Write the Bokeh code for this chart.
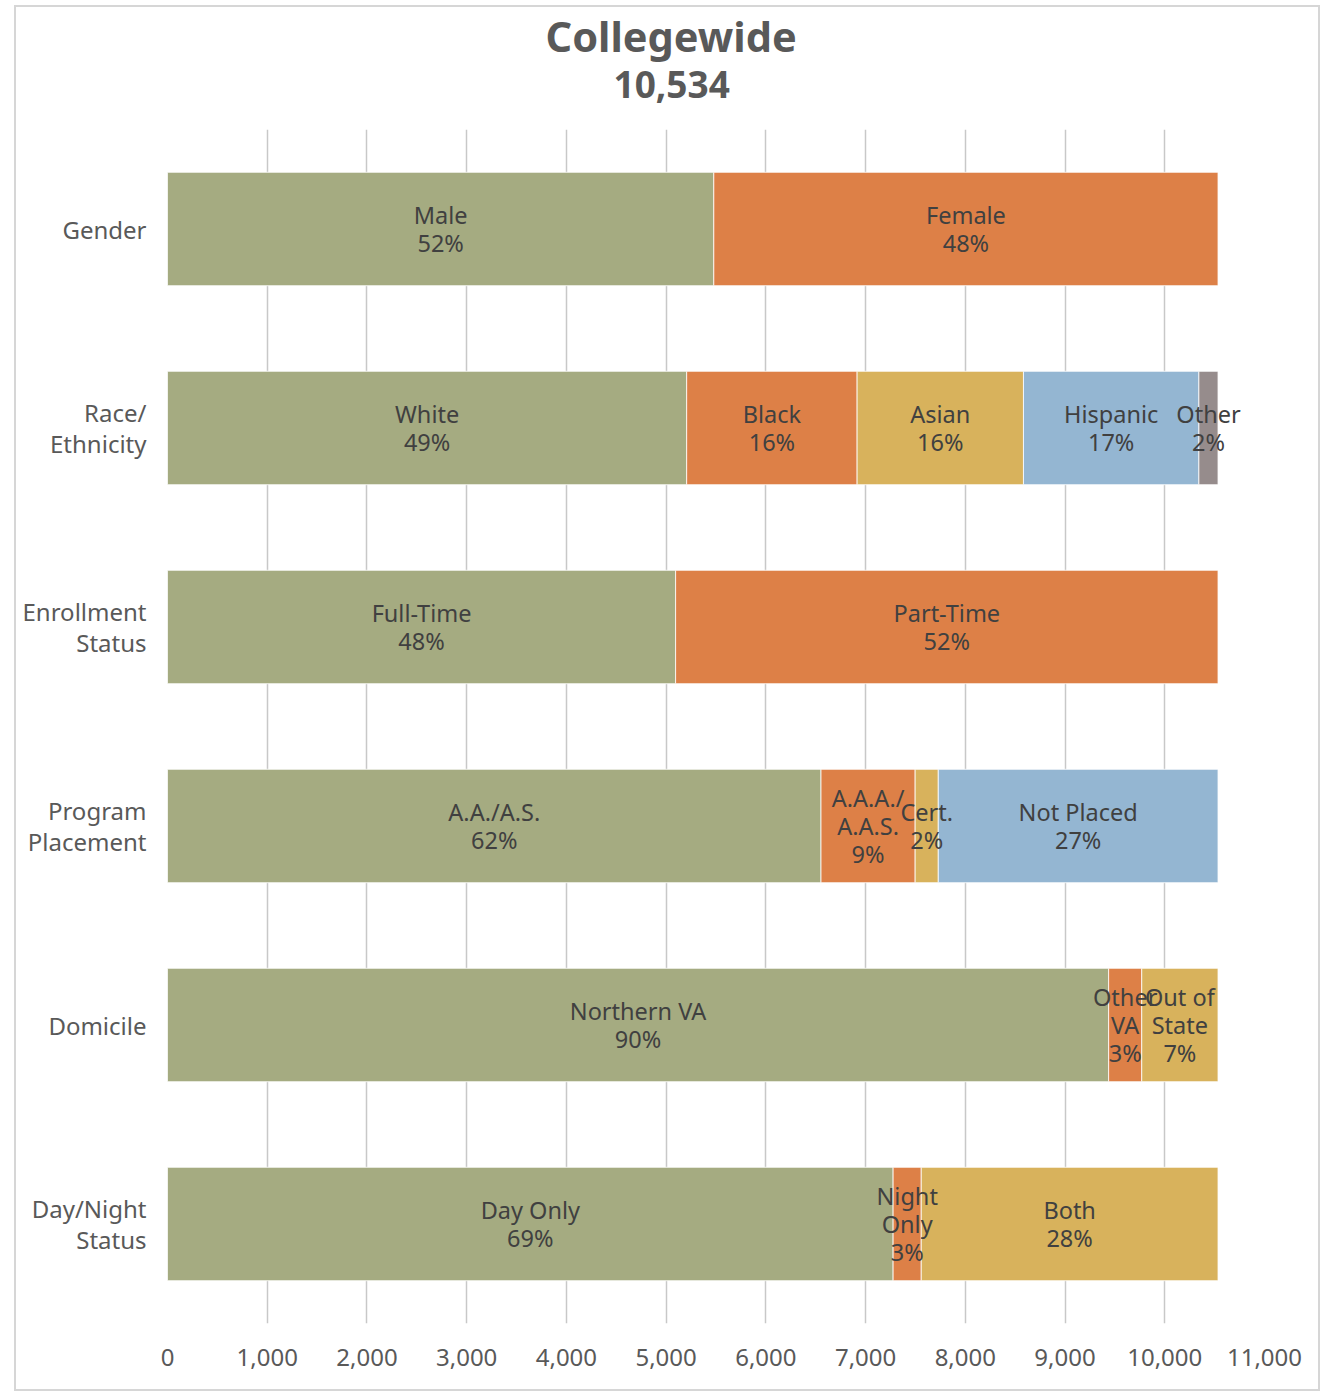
from bokeh.plotting import figure
from bokeh.models import FactorRange, Range1d, ColumnDataSource, FixedTicker, NumeralTickFormatter, Title
from bokeh.core.properties import value
from bokeh.embed import file_html
from bokeh.resources import INLINE
import numpy as np

title_text = "Collegewide"
total_text = "10,534"

rows = ["Gender", "Race/\nEthnicity", "Enrollment\nStatus", "Program\nPlacement", "Domicile", "Day/Night\nStatus"]

gender_names = ["Male", "Female"]
gender_values = [5478, 5056]
gender_pcts = [52, 48]

race_names = ["White", "Black", "Asian", "Hispanic", "Other"]
race_values = [5206, 1709, 1668, 1759, 192]
race_pcts = [49, 16, 16, 17, 2]

enroll_names = ["Full-Time", "Part-Time"]
enroll_values = [5095, 5439]
enroll_pcts = [48, 52]

program_names = ["A.A./A.S.", "A.A.A./\nA.A.S.", "Cert.", "Not Placed"]
program_values = [6553, 944, 232, 2805]
program_pcts = [62, 9, 2, 27]

domicile_names = ["Northern VA", "Other\nVA", "Out of\nState"]
domicile_values = [9437, 332, 765]
domicile_pcts = [90, 3, 7]

daynight_names = ["Day Only", "Night\nOnly", "Both"]
daynight_values = [7276, 282, 2976]
daynight_pcts = [69, 3, 28]

x_ticks = list(range(0, 11001, 1000))

palette = ["#A5AB81", "#DD8047", "#D8B25C", "#94B6D2", "#968C8C"]

groups = [
    (rows[0], gender_names, gender_values, gender_pcts),
    (rows[1], race_names, race_values, race_pcts),
    (rows[2], enroll_names, enroll_values, enroll_pcts),
    (rows[3], program_names, program_values, program_pcts),
    (rows[4], domicile_names, domicile_values, domicile_pcts),
    (rows[5], daynight_names, daynight_values, daynight_pcts),
]

data = dict(row=[], left=[], right=[], mid=[], label=[], color=[])
for row, names, vals, pcts in groups:
    v = np.array(vals, dtype=float)
    right = np.cumsum(v)
    left = right - v
    for i in range(len(vals)):
        data["row"].append(row)
        data["left"].append(left[i])
        data["right"].append(right[i])
        data["mid"].append((left[i] + right[i]) / 2)
        data["label"].append(f"{names[i]}\n{pcts[i]}%")
        data["color"].append(palette[i])
src = ColumnDataSource(data)

p = figure(
    width=1306, height=1386,
    y_range=FactorRange(*list(reversed(rows))),
    x_range=Range1d(0, 11000),
    output_backend="svg", toolbar_location=None,
    min_border_left=151, min_border_right=58, min_border_top=122, min_border_bottom=70,
)
p.margin = (5, 0, 0, 14)
p.styles = {"border": "2px solid #D6D6D6"}
p.outline_line_color = None
p.background_fill_color = "white"
p.border_fill_color = "white"

p.hbar(y="row", left="left", right="right", height=0.57, fill_color="color",
       line_color="white", line_width=0.8, source=src)
p.text(x="mid", y="row", text="label", text_align="center", text_baseline="middle",
       text_font=value("Noto Sans"), text_font_size="23.5px", text_color="#404040",
       text_line_height=0.88, source=src)

p.xgrid.ticker = FixedTicker(ticks=x_ticks)
p.xgrid.grid_line_color = "#C8C8C8"
p.xgrid.grid_line_width = 1.5
p.ygrid.visible = False

p.xaxis.ticker = FixedTicker(ticks=x_ticks)
p.xaxis.formatter = NumeralTickFormatter(format="0,0")
for ax in (p.xaxis, p.yaxis):
    ax.axis_line_color = None
    ax.major_tick_line_color = None
    ax.minor_tick_line_color = None
    ax.major_label_text_font = "Noto Sans"
    ax.major_label_text_font_size = "24px"
    ax.major_label_text_color = "#595959"
    ax.major_label_text_line_height = 0.95
p.xaxis.major_label_standoff = 19
p.yaxis.major_label_standoff = 15

p.add_layout(Title(text=total_text, align="left", offset=446, standoff=64,
                   text_font="Noto Sans", text_font_size="37px", text_font_style="bold",
                   text_color="#595959"), "above")
p.add_layout(Title(text=title_text, align="left", offset=378, standoff=-54,
                   text_font="Noto Sans", text_font_size="41.5px", text_font_style="bold",
                   text_color="#595959", text_line_height=0.9), "above")

open("out.html", "w").write(file_html(p, INLINE))
